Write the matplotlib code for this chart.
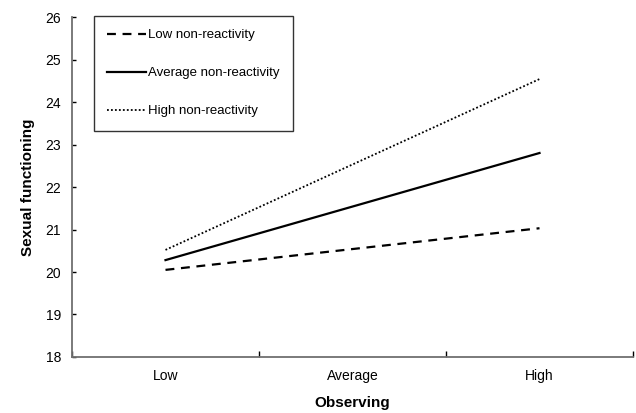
import matplotlib
matplotlib.use("Agg")
import matplotlib.pyplot as plt

categories = ["Low", "Average", "High"]
low_nr = [20.05, 20.54, 21.03]
avg_nr = [20.28, 21.54, 22.80]
high_nr = [20.52, 22.53, 24.54]
yticks = [18, 19, 20, 21, 22, 23, 24, 25, 26]

plt.rcParams['font.family'] = ['Liberation Sans', 'DejaVu Sans']

fig = plt.figure(figsize=(6.36, 4.13), dpi=100)
ax = fig.add_axes([0.1132, 0.1356, 0.8821, 0.8232])

x = list(range(len(categories)))
ax.plot(x, low_nr, color='black', lw=1.6, linestyle=(0, (4, 3)), label='Low non-reactivity')
ax.plot(x, avg_nr, color='black', lw=1.6, linestyle='-', label='Average non-reactivity')
ax.plot(x, high_nr, color='black', lw=1.3, linestyle=(0, (1, 1.2)), label='High non-reactivity')

ax.set_xlim(-0.5, 2.5)
ax.set_ylim(18, 26)
ax.set_yticks(yticks)
ax.set_xticks(x)
ax.set_xticklabels(categories)
ax.set_xticks([-0.5, 0.5, 1.5, 2.5], minor=True)
ax.tick_params(axis='x', which='major', length=0, labelsize=10, pad=9)
ax.tick_params(axis='x', which='minor', direction='in', length=4, width=1, color='black')
ax.tick_params(axis='y', direction='in', length=3, width=1, labelsize=10, pad=8, color='black')

for s in ['top', 'right']:
    ax.spines[s].set_visible(False)
for s in ['left', 'bottom']:
    ax.spines[s].set_color('#707070')
    ax.spines[s].set_linewidth(1.3)

ax.set_xlabel('Observing', fontsize=11, fontweight='bold', labelpad=9)
ax.set_ylabel('Sexual functioning', fontsize=11, fontweight='bold', labelpad=7)

leg = ax.legend(loc='upper left', bbox_to_anchor=(0.0394, 1.003), frameon=True, fancybox=False,
                edgecolor='black', fontsize=9.5, handlelength=2.9, labelspacing=1.95,
                borderpad=1.0, handletextpad=0.2, borderaxespad=0.0)
leg.get_frame().set_linewidth(1.0)

fig.savefig('out.png', dpi=100)
